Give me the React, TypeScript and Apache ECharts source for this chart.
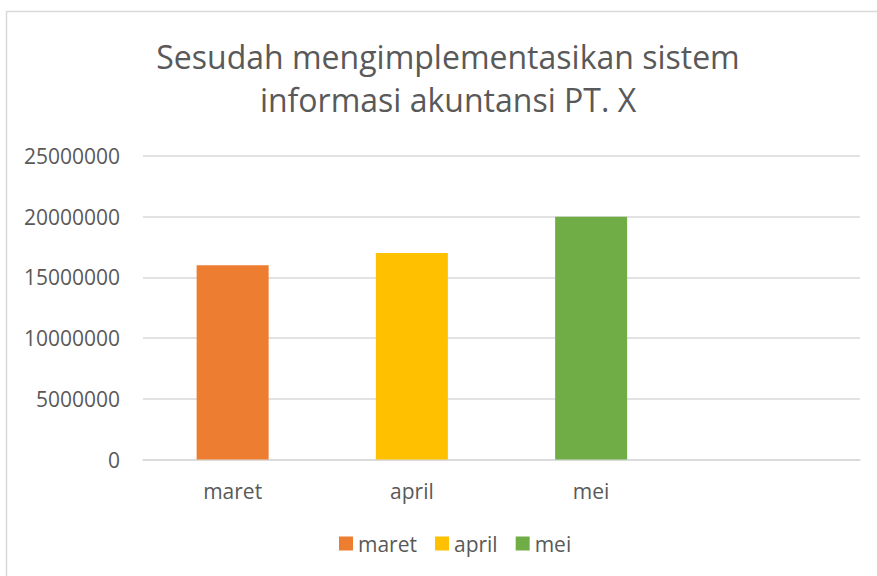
import React, { useEffect, useRef } from "react";
import * as echarts from "echarts";

const categories = ["maret", "april", "mei", ""];
const seriesNames = ["maret", "april", "mei"];
const seriesValues = [16000000, 17000000, 20000000];
const colors = ["#ED7D31", "#FFC000", "#70AD47"];
const titleText = "Sesudah mengimplementasikan sistem\ninformasi akuntansi PT. X";

export default function App() {
  const ref = useRef<HTMLDivElement>(null);
  useEffect(() => {
    if (!ref.current) return;
    const chart = echarts.init(ref.current, undefined, { renderer: "svg" });
    const font = "'Open Sans', sans-serif";
    const series = seriesNames.map((name, i) => ({
      name,
      type: "bar",
      stack: "all",
      barWidth: 72,
      itemStyle: { color: colors[i] },
      data: categories.map((_, j) => (j === i ? seriesValues[i] : null)),
    }));
    chart.setOption({
      animation: false,
      backgroundColor: "#ffffff",
      graphic: [
        {
          type: "rect",
          shape: { x: 6.5, y: 11.5, width: 900, height: 600 },
          style: { fill: "none", stroke: "#D9D9D9", lineWidth: 1.5 },
          silent: true,
        },
      ],
      title: {
        text: titleText,
        left: 443,
        top: 30,
        textAlign: "center",
        textStyle: {
          fontFamily: font,
          fontSize: 32,
          fontWeight: "normal",
          color: "#595959",
          lineHeight: 43,
        },
      },
      legend: {
        bottom: 17,
        left: 334,
        itemWidth: 14,
        itemHeight: 14,
        itemGap: 18,
        icon: "rect",
        textStyle: { fontFamily: font, fontSize: 21, color: "#595959" },
        data: seriesNames,
      },
      grid: { left: 143, right: 17, top: 156, bottom: 116.5, containLabel: false },
      xAxis: {
        type: "category",
        data: categories,
        axisLine: { lineStyle: { color: "#D9D9D9", width: 1.5 } },
        axisTick: { show: false },
        axisLabel: { fontFamily: font, fontSize: 21, color: "#595959", margin: 21 },
      },
      yAxis: {
        type: "value",
        min: 0,
        max: 25000000,
        interval: 5000000,
        axisLine: { show: false },
        axisTick: { show: false },
        splitLine: { lineStyle: { color: "#D9D9D9", width: 1.5 } },
        axisLabel: {
          fontFamily: font,
          fontSize: 21,
          color: "#595959",
          margin: 23,
          formatter: (v: number) => String(v),
        },
      },
      series,
    });
    return () => chart.dispose();
  }, []);
  return (
    <div
      ref={ref}
      style={{ position: "fixed", left: 0, top: 0, width: 877, height: 576 }}
    />
  );
}
